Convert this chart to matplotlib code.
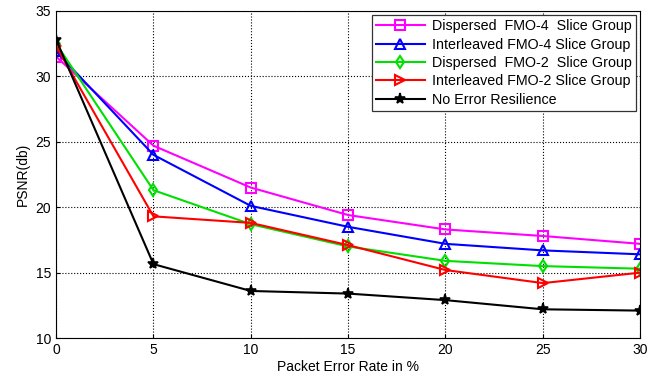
import matplotlib
matplotlib.use("Agg")
import matplotlib.pyplot as plt

plt.rcParams['font.family'] = ['Liberation Sans', 'DejaVu Sans']

per = [0, 5, 10, 15, 20, 25, 30]
disp4 = [31.5, 24.7, 21.5, 19.4, 18.3, 17.8, 17.2]
inter4 = [31.9, 24.0, 20.1, 18.5, 17.2, 16.7, 16.4]
disp2 = [32.5, 21.3, 18.7, 17.0, 15.9, 15.5, 15.3]
inter2 = [32.3, 19.3, 18.8, 17.1, 15.2, 14.2, 15.0]
noer = [32.8, 15.65, 13.6, 13.4, 12.9, 12.2, 12.1]

labels = ["Dispersed  FMO-4  Slice Group", "Interleaved FMO-4 Slice Group",
          "Dispersed  FMO-2  Slice Group", "Interleaved FMO-2 Slice Group",
          "No Error Resilience"]

fig = plt.figure(figsize=(6.6, 3.74), dpi=100)
ax = fig.add_axes([0.085, 0.096, 0.885, 0.875])

ax.plot(per, disp4, '-s', color='#ff00ff', lw=1.5, ms=7, mfc='none', mew=1.5, label=labels[0])
ax.plot(per, inter4, '-^', color='#0000ff', lw=1.5, ms=7, mfc='none', mew=1.5, label=labels[1])
ax.plot(per, disp2, '-d', color='#00e000', lw=1.5, ms=6, mfc='none', mew=1.5, label=labels[2])
ax.plot(per, inter2, '->', color='#ff0000', lw=1.5, ms=7, mfc='none', mew=1.5, label=labels[3])
ax.plot(per, noer, '-*', color='black', lw=1.5, ms=8, mew=1.2, label=labels[4])

ax.set_xlim(0, 30)
ax.set_ylim(10, 35)
ax.set_xticks(per)
ax.set_yticks([10, 15, 20, 25, 30, 35])
ax.tick_params(direction='in', labelsize=10, length=3)
ax.grid(True, linestyle=':', color='black', lw=0.8)
ax.set_xlabel("Packet Error Rate in %", fontsize=10, labelpad=2)
ax.set_ylabel("PSNR(db)", fontsize=10, labelpad=4)

leg = ax.legend(loc='upper right', fontsize=10.3, fancybox=False, framealpha=1,
                edgecolor='#333333', borderpad=0.3, labelspacing=0.3,
                handlelength=3.4, handletextpad=0.5, borderaxespad=0.3)
leg.get_frame().set_linewidth(0.9)

fig.savefig("out.png", dpi=100)
